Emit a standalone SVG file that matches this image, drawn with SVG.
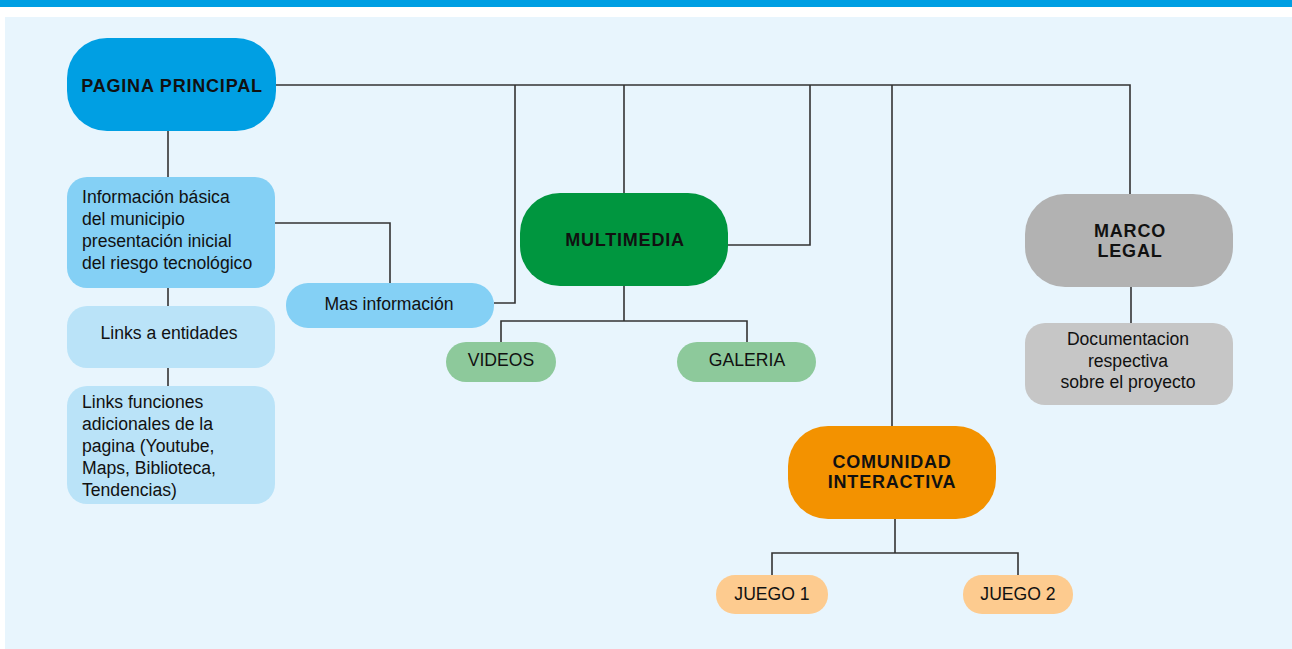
<svg xmlns="http://www.w3.org/2000/svg" width="1292" height="649" viewBox="0 0 1292 649">
<style>
.t{font-family:"Liberation Sans",Arial,sans-serif;fill:#111;}
.b{font-weight:bold;font-size:18px;letter-spacing:0.8px;}
.n{font-size:17.6px;}
.c{fill:none;stroke:#333;stroke-width:1.6;}
</style>
<rect x="0" y="0" width="1292" height="649" fill="#ffffff"/>
<rect x="0" y="0" width="1292" height="7" fill="#009fe3"/>
<rect x="5" y="17" width="1287" height="632" fill="#e8f5fd"/>
<g id="connectors">
<path class="c" d="M276 85H1130V194"/>
<path class="c" d="M515 85V303H494"/>
<path class="c" d="M624 85V193"/>
<path class="c" d="M810 85V245H728"/>
<path class="c" d="M892 85V426"/>
<path class="c" d="M168 131V177M168 288V306M168 368V386"/>
<path class="c" d="M275 223H390V283"/>
<path class="c" d="M624 286V321M501 342V321H747V342"/>
<path class="c" d="M1131 287V323"/>
<path class="c" d="M895 519V553M772 575V553H1018V575"/>
</g>
<g id="pagina">
<rect x="67" y="38" width="209" height="93" rx="40" fill="#009fe3"/>
<text class="t b" x="172" y="91.5" text-anchor="middle">PAGINA PRINCIPAL</text>
</g>
<g id="info">
<rect x="67" y="177" width="208" height="111" rx="20" fill="#84d0f5"/>
<text class="t n" x="82" y="203">Información básica</text>
<text class="t n" x="82" y="225">del municipio</text>
<text class="t n" x="82" y="247">presentación inicial</text>
<text class="t n" x="82" y="269">del riesgo tecnológico</text>
</g>
<g id="links">
<rect x="67" y="306" width="208" height="62" rx="20" fill="#bae3f8"/>
<text class="t n" x="169" y="339" text-anchor="middle">Links a entidades</text>
</g>
<g id="funciones">
<rect x="67" y="386" width="208" height="118" rx="20" fill="#bae3f8"/>
<text class="t n" x="82" y="408">Links funciones</text>
<text class="t n" x="82" y="430">adicionales de la</text>
<text class="t n" x="82" y="452">pagina (Youtube,</text>
<text class="t n" x="82" y="474">Maps, Biblioteca,</text>
<text class="t n" x="82" y="496">Tendencias)</text>
</g>
<g id="mas">
<rect x="286" y="283" width="208" height="45" rx="22" fill="#84d0f5"/>
<text class="t n" x="389" y="310" text-anchor="middle">Mas información</text>
</g>
<g id="multimedia">
<rect x="520" y="193" width="208" height="93" rx="40" fill="#00963f"/>
<text class="t b" x="625" y="246" text-anchor="middle">MULTIMEDIA</text>
</g>
<g id="videos">
<rect x="446" y="342" width="110" height="40" rx="20" fill="#8dc99b"/>
<text class="t n" x="501" y="366" text-anchor="middle">VIDEOS</text>
</g>
<g id="galeria">
<rect x="677" y="342" width="139" height="40" rx="20" fill="#8dc99b"/>
<text class="t n" x="747" y="366" text-anchor="middle">GALERIA</text>
</g>
<g id="marco">
<rect x="1025" y="194" width="208" height="93" rx="40" fill="#b2b2b2"/>
<text class="t b" x="1130" y="237" text-anchor="middle">MARCO</text>
<text class="t b" x="1130" y="257" text-anchor="middle">LEGAL</text>
</g>
<g id="documentacion">
<rect x="1025" y="323" width="208" height="82" rx="20" fill="#c6c6c6"/>
<text class="t n" x="1128" y="345" text-anchor="middle">Documentacion</text>
<text class="t n" x="1128" y="367" text-anchor="middle">respectiva</text>
<text class="t n" x="1128" y="388" text-anchor="middle">sobre el proyecto</text>
</g>
<g id="comunidad">
<rect x="788" y="426" width="208" height="93" rx="40" fill="#f39200"/>
<text class="t b" x="892" y="468" text-anchor="middle">COMUNIDAD</text>
<text class="t b" x="892" y="488" text-anchor="middle">INTERACTIVA</text>
</g>
<g id="juego1">
<rect x="716" y="575" width="112" height="39" rx="19" fill="#fdcb8f"/>
<text class="t n" x="772" y="600" text-anchor="middle">JUEGO 1</text>
</g>
<g id="juego2">
<rect x="963" y="575" width="110" height="39" rx="19" fill="#fdcb8f"/>
<text class="t n" x="1018" y="600" text-anchor="middle">JUEGO 2</text>
</g>
</svg>
